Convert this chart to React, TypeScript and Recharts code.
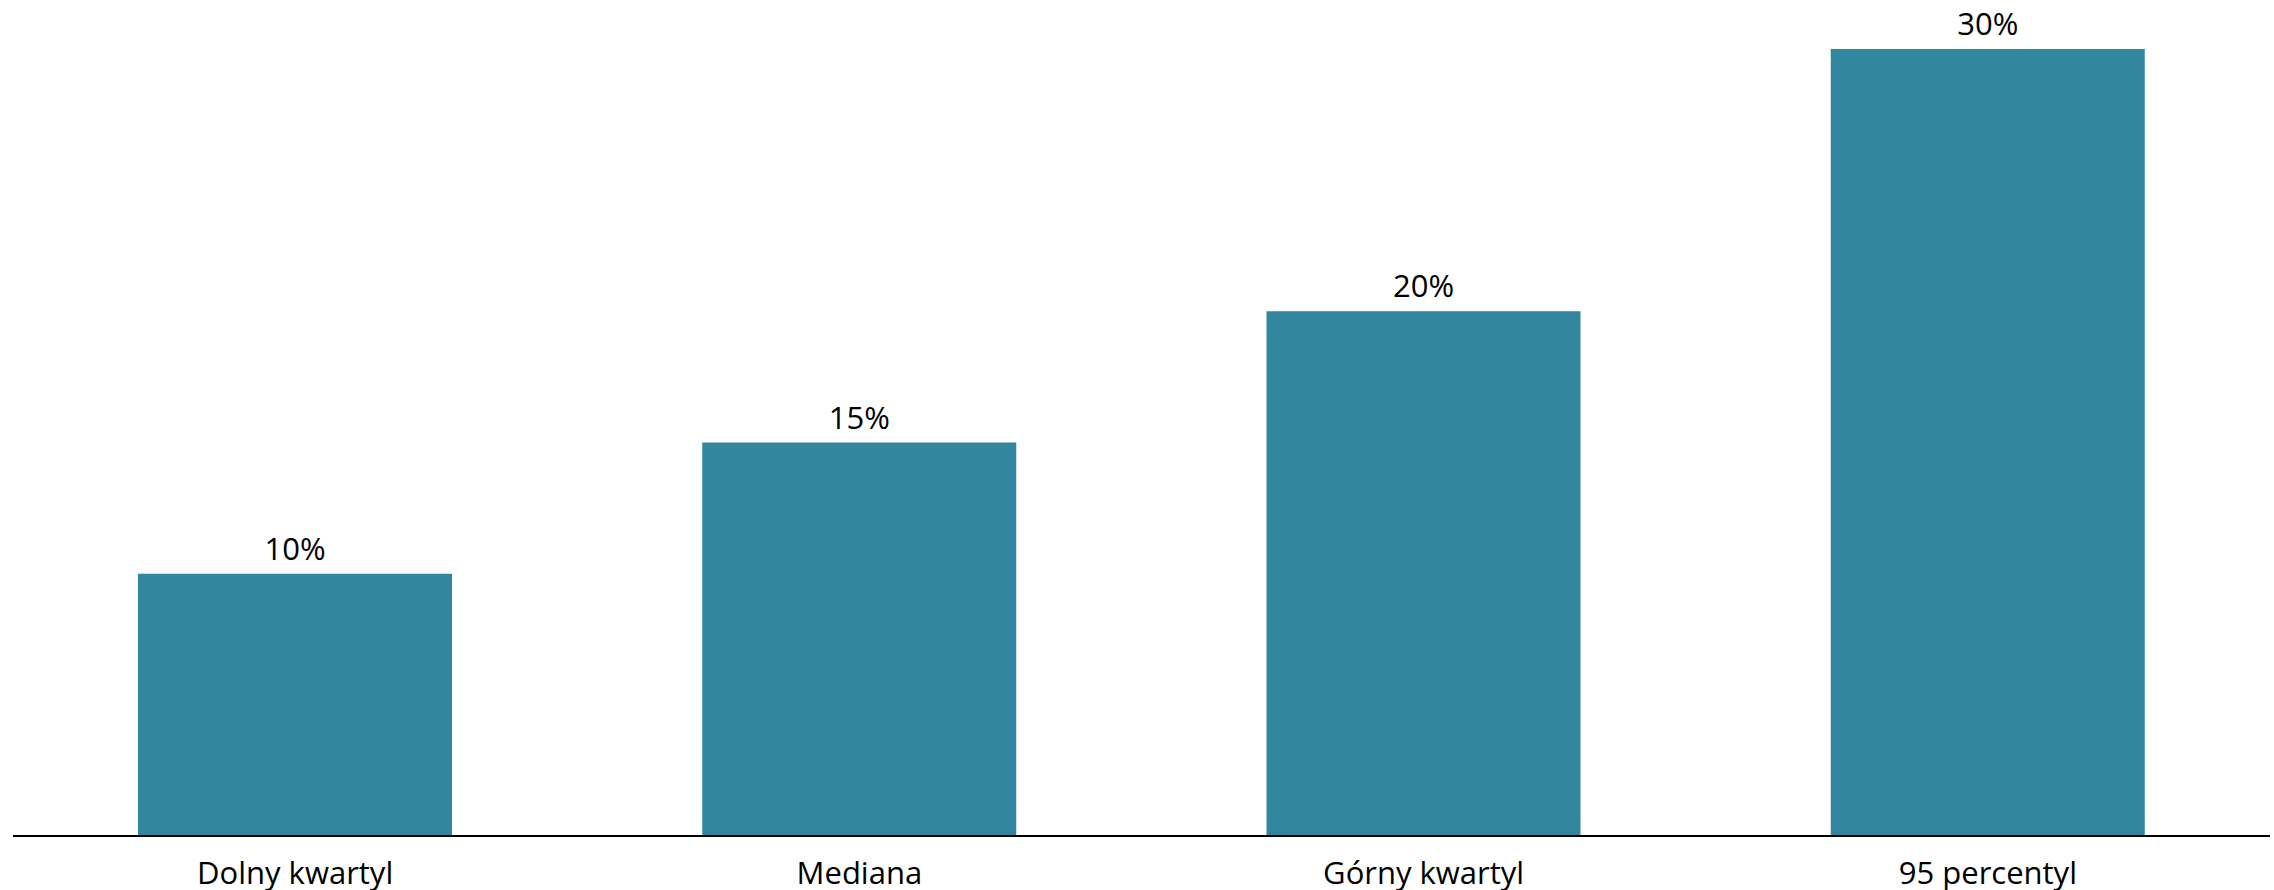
import { BarChart, Bar, XAxis, YAxis, LabelList } from "recharts";

const categories = ["Dolny kwartyl", "Mediana", "Górny kwartyl", "95 percentyl"];
const values = [10, 15, 20, 30];

const data = categories.map((name, i) => ({ name, value: values[i] }));

const FONT = "'Open Sans', 'Noto Sans', sans-serif";

export default function App() {
  return (
    <div style={{ position: "absolute", left: 0, top: 0, background: "#fff" }}>
      <BarChart
        width={2274}
        height={890}
        data={data}
        margin={{ top: 49, right: 4, bottom: 0, left: 13 }}
      >
        <XAxis
          dataKey="name"
          height={54}
          tickLine={false}
          tickSize={0}
          tickMargin={26}
          axisLine={{ stroke: "#000", strokeWidth: 2 }}
          tick={{ fill: "#000", fontSize: 31, fontFamily: FONT }}
        />
        <YAxis hide domain={[0, 30]} />
        <Bar dataKey="value" fill="#31859C" barSize={314} isAnimationActive={false}>
          <LabelList
            dataKey="value"
            position="top"
            offset={14}
            formatter={(v: number) => `${v}%`}
            style={{ fill: "#000", fontSize: 31, fontFamily: FONT }}
          />
        </Bar>
      </BarChart>
    </div>
  );
}
